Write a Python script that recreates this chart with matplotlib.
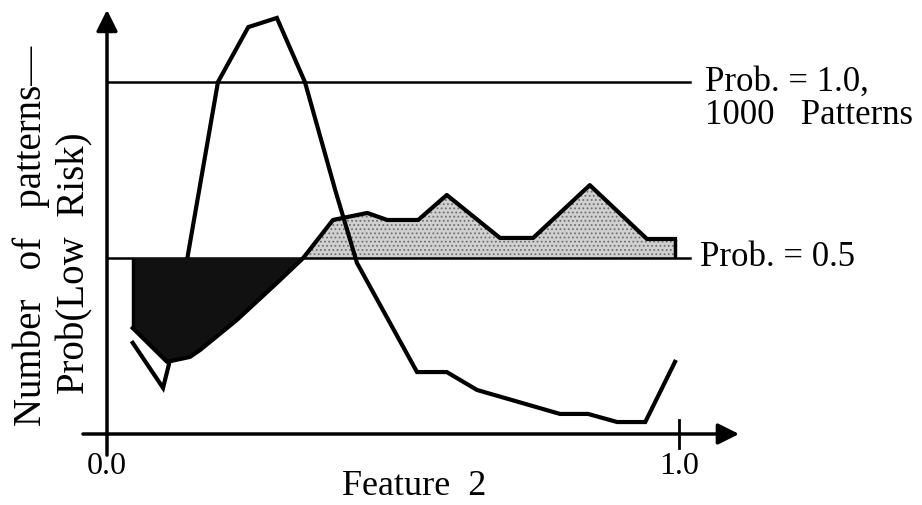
import numpy as np
import matplotlib
matplotlib.use("Agg")
import matplotlib.pyplot as plt

# probability of low risk vs feature 2
feature_prob = [0.045, 0.105, 0.145, 0.163, 0.227, 0.297, 0.343, 0.395, 0.455,
                0.490, 0.544, 0.594, 0.687, 0.745, 0.844, 0.944, 0.993]
prob_low_risk = [0.301, 0.205, 0.219, 0.239, 0.324, 0.429, 0.500, 0.608, 0.628,
                 0.608, 0.608, 0.679, 0.557, 0.557, 0.707, 0.554, 0.554]

# number of patterns vs feature 2 (1000 patterns = prob 1.0 line)
feature_pat = [0.045, 0.098, 0.108, 0.194, 0.247, 0.297, 0.346, 0.399, 0.437,
               0.542, 0.594, 0.647, 0.792, 0.841, 0.892, 0.941, 0.993]
n_patterns = [259, 131, 196, 1000, 1156, 1182, 1000, 693, 486,
              176, 176, 125, 57, 57, 34, 34, 205]

ref_levels = [0.5, 1.0]
x_ticks = [0.0, 1.0]
x_tick_labels = ["0.0", "1.0"]

plt.rcParams["font.family"] = ["Liberation Serif", "DejaVu Serif"]
plt.rcParams["hatch.linewidth"] = 0.8

fig = plt.figure(figsize=(9.22, 5.05), dpi=100)
ax = fig.add_axes([107 / 922, 71 / 505, 572 / 922, 352 / 505])
ax.set_xlim(0, 1)
ax.set_ylim(0, 1)
ax.axis("off")

xp = np.array(feature_prob)
yp = np.array(prob_low_risk)
xn = np.array(feature_pat)
yn = np.array(n_patterns) / 1000.0

# shaded areas between the probability curve and the 0.5 line
ax.fill_between(xp, yp, 0.5, where=yp >= 0.5, interpolate=True,
                facecolor="#d0d0d0", edgecolor="#707070", hatch="....",
                linewidth=0, zorder=1)
ax.plot(xn, yn, color="black", lw=3, solid_joinstyle="miter", zorder=2,
        clip_on=False)
ax.fill_between(xp, yp, 0.5, where=yp <= 0.5, interpolate=True,
                facecolor="#111111", linewidth=0, zorder=3)
ax.plot(xp, yp, color="black", lw=3, zorder=4, clip_on=False)
ax.vlines([xp[0], xp[-1]], [yp[0], yp[-1]], 0.5, color="black", lw=2.5, zorder=4)

# reference lines
for lev in ref_levels:
    ax.plot([0, 1.02], [lev, lev], color="black", lw=1.8, zorder=2, clip_on=False)

# axes with arrows
arrow = dict(arrowstyle="-|>", color="black", lw=2.5, mutation_scale=32,
             shrinkA=0, shrinkB=0)
ax.annotate("", xy=(1.105, 0.0), xytext=(-0.042, 0.0), arrowprops=arrow,
            annotation_clip=False)
ax.annotate("", xy=(0.0, 1.205), xytext=(0.0, -0.06), arrowprops=arrow,
            annotation_clip=False)
ax.plot([1.0, 1.0], [-0.04, 0.04], color="black", lw=2, clip_on=False)

for t, lab in zip(x_ticks, x_tick_labels):
    ax.text(t, -0.093, lab, ha="center", va="center", fontsize=23)
ax.text(0.537, -0.172, "Feature  2", ha="center", va="baseline", fontsize=26)

ax.text(1.045, 1.0, "Prob. = 1.0,", ha="left", va="center", fontsize=25)
ax.text(1.045, 0.905, "1000   Patterns", ha="left", va="center", fontsize=25)
ax.text(1.037, 0.5, "Prob. = 0.5", ha="left", va="center", fontsize=25)

ax.text(-0.133, 0.5625, "Number   of   patterns\u2014", rotation=90, ha="center",
        va="center", fontsize=28)
ax.text(-0.056, 0.484, "Prob(Low  Risk)", rotation=90, ha="center",
        va="center", fontsize=28)

fig.savefig("out.png", dpi=100)
